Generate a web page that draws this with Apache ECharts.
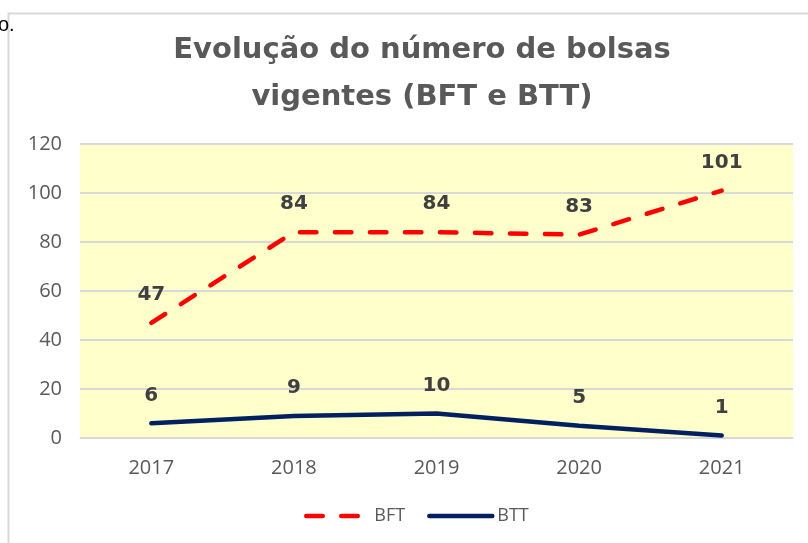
<!DOCTYPE html>
<html><head><meta charset="utf-8">
<script src="https://cdn.jsdelivr.net/npm/echarts@6/dist/echarts.min.js"></script>
<style>html,body{margin:0;padding:0;background:#fff}#c{width:808px;height:543px}</style>
</head><body><div id="c"></div>
<script>
const categories = ['2017','2018','2019','2020','2021'];
const bft = [47, 84, 84, 83, 101];
const btt = [6, 9, 10, 5, 1];
const yTicks = {min: 0, max: 120, interval: 20};

const chart = echarts.init(document.getElementById('c'), null, {renderer: 'canvas'});
const labelStyle = {show: true, position: 'top', distance: 18, fontSize: 20, fontWeight: 'bold', color: '#404040', fontFamily: 'DejaVu Sans'};
chart.setOption({
  backgroundColor: '#ffffff',
  animation: false,
  title: {
    text: 'Evolução do número de bolsas\nvigentes (BFT e BTT)',
    left: 417, top: 22, textAlign: 'center',
    textStyle: {fontSize: 29, fontWeight: 'bold', color: '#595959', lineHeight: 47, fontFamily: 'DejaVu Sans'}
  },
  graphic: [
    {type: 'polyline', shape: {points: [[8.5, 543], [8.5, 13.5], [808, 13.5]]}, style: {stroke: '#d9d9d9', lineWidth: 2, fill: null}},
    {type: 'text', x: -2, y: 15, style: {text: 'o.', fontSize: 20, fill: '#000', fontFamily: 'Liberation Sans'}}
  ],
  grid: {left: 80, right: 15, top: 144, bottom: 105, backgroundColor: '#FFFFCC', show: true, borderWidth: 0},
  legend: {
    bottom: 13, left: 299, itemWidth: 63, itemHeight: 12, itemGap: 22,
    itemStyle: {opacity: 0},
    lineStyle: {width: 4.5},
    textStyle: {fontSize: 18, color: '#595959', fontFamily: 'Open Sans'},
    data: [{name: 'BFT'}, {name: 'BTT'}]
  },
  xAxis: {
    type: 'category', data: categories, boundaryGap: true,
    axisLine: {show: true, lineStyle: {color: '#d9d9d9', width: 1}},
    axisTick: {show: false},
    axisLabel: {fontSize: 20, color: '#595959', margin: 20, fontFamily: 'Open Sans'}
  },
  yAxis: {
    type: 'value', min: yTicks.min, max: yTicks.max, interval: yTicks.interval,
    axisLine: {show: false}, axisTick: {show: false},
    axisLabel: {fontSize: 20, color: '#595959', margin: 18, fontFamily: 'Open Sans'},
    splitLine: {lineStyle: {color: '#d9d9d9', width: 2}}
  },
  series: [
    {name: 'BFT', type: 'line', data: bft, symbol: 'circle', symbolSize: 0, showSymbol: true, lineStyle: {color: '#ff0000', width: 4.5, type: [16.5, 18.5], cap: 'round'}, itemStyle: {color: '#ff0000'}, label: labelStyle},
    {name: 'BTT', type: 'line', data: btt, symbol: 'circle', symbolSize: 0, showSymbol: true, lineStyle: {color: '#002060', width: 4.5, cap: 'round'}, itemStyle: {color: '#002060'}, label: labelStyle}
  ]
});
</script></body></html>
